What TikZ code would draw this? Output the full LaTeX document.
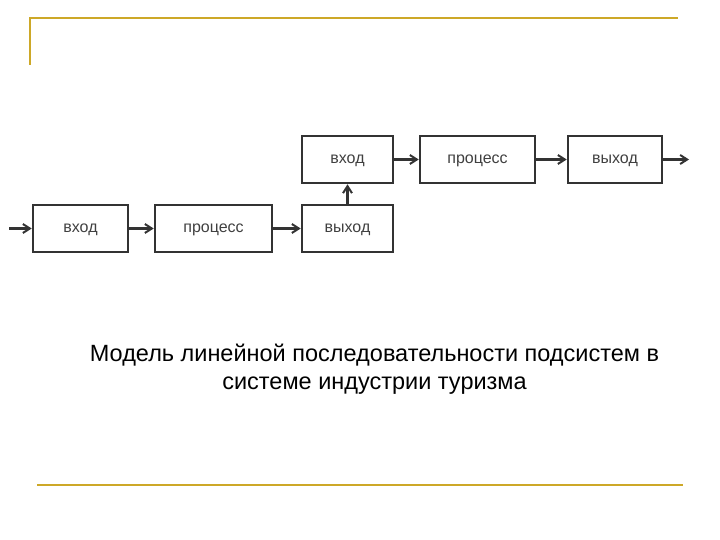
\documentclass[tikz,border=0pt]{standalone}
\usepackage{fontspec}
\setmainfont{Liberation Sans}
\usetikzlibrary{arrows.meta}
\definecolor{gold}{RGB}{205,168,40}
\begin{document}
\begin{tikzpicture}[x=1pt,y=-1pt,
  blk/.style={draw=black!80,line width=2.6pt,minimum height=47pt,inner sep=0pt,text height=11pt,text depth=3pt,font=\fontsize{16}{16}\selectfont,text=black!75},
  arr/.style={-{Straight Barb[length=7pt,width=9pt,line width=2pt]},line width=2.2pt,draw=black!80},
  deco/.style={draw=gold,line width=1.5pt}]
\useasboundingbox (0,0) rectangle (720,540);
\draw[deco] (30,65) -- (30,18) -- (678,18);
\draw[deco] (37,485) -- (683,485);
\node[blk,minimum width=95pt] (b1) at (80.5,228.5) {вход};
\node[blk,minimum width=117pt] (b2) at (213.5,228.5) {процесс};
\node[blk,minimum width=91pt] (b3) at (347.5,228.5) {выход};
\node[blk,minimum width=91pt] (b4) at (347.5,159.5) {вход};
\node[blk,minimum width=115pt] (b5) at (477.5,159.5) {процесс};
\node[blk,minimum width=94pt] (b6) at (615,159.5) {выход};
\coordinate (in) at (9,228.5);
\coordinate (out) at (689,159.5);
\draw[arr] (in) -- (b1);
\draw[arr] (b1) -- (b2);
\draw[arr] (b2) -- (b3);
\draw[arr] (b3) -- (b4);
\draw[arr] (b4) -- (b5);
\draw[arr] (b5) -- (b6);
\draw[arr] (b6) -- (out);
\node[align=center,font=\fontsize{23.5}{28}\selectfont] (cap) at (374.5,369) {Модель линейной последовательности подсистем в\\системе индустрии туризма};
\end{tikzpicture}
\end{document}
